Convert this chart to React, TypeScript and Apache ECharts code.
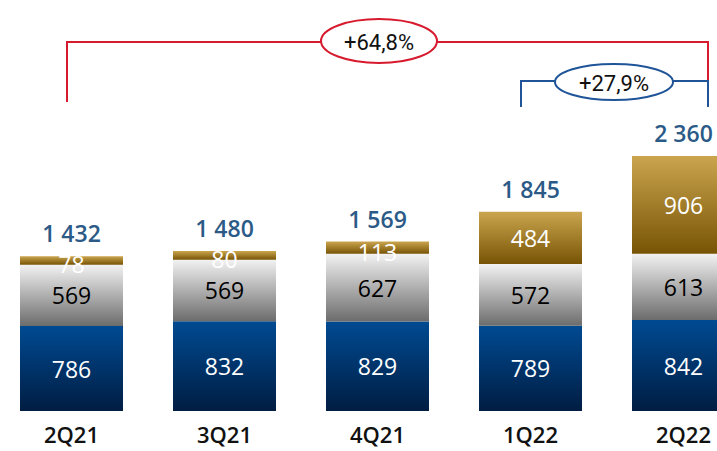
import React, { useEffect, useRef } from "react";
import * as echarts from "echarts";

const categories = ["2Q21", "3Q21", "4Q21", "1Q22", "2Q22"];
const blueValues = [786, 832, 829, 789, 842];
const greyValues = [569, 569, 627, 572, 613];
const goldValues = [78, 80, 113, 484, 906];
const totals = [1432, 1480, 1569, 1845, 2360];
const growthYoY = "+64,8%";
const growthQoQ = "+27,9%";

const FONT = "'Open Sans', 'Noto Sans', sans-serif";

function fmt(n: number): string {
  return String(n).replace(/\B(?=(\d{3})+(?!\d))/g, " ");
}

function vgrad(top: string, bottom: string) {
  return new echarts.graphic.LinearGradient(0, 0, 0, 1, [
    { offset: 0, color: top },
    { offset: 1, color: bottom },
  ]);
}

export default function App() {
  const ref = useRef<HTMLDivElement>(null);

  useEffect(() => {
    if (!ref.current) return;
    const chart = echarts.init(ref.current, undefined, { renderer: "svg" });

    const insideLabel = (color: string) => ({
      show: true,
      position: "inside" as const,
      color,
      fontFamily: FONT,
      fontSize: 23,
      fontWeight: 500 as any,
      lineHeight: 20,
    });

    // thin gold slices: label sits a little lower, as in the source slide
    const goldData = goldValues.map((v) =>
      v < 150 ? { value: v, label: { offset: [0, 4] } } : v
    );

    chart.setOption({
      animation: false,
      backgroundColor: "#ffffff",
      grid: {
        left: -5,
        right: -43,
        top: 141,
        bottom: 40,
        containLabel: false,
        outerBoundsMode: "none",
      },
      xAxis: {
        type: "category",
        data: categories,
        axisLine: { show: false },
        axisTick: { show: false },
        axisLabel: {
          color: "#111111",
          fontFamily: FONT,
          fontSize: 22,
          fontWeight: 550,
          margin: 12,
        },
      },
      yAxis: {
        type: "value",
        min: 0,
        max: 2500,
        show: false,
        splitLine: { show: false },
      },
      series: [
        {
          name: "blue",
          type: "bar",
          stack: "total",
          barWidth: 103,
          data: blueValues,
          itemStyle: { color: vgrad("#004a92", "#001d42") },
          label: insideLabel("#ffffff"),
        },
        {
          name: "grey",
          type: "bar",
          stack: "total",
          barWidth: 103,
          data: greyValues,
          itemStyle: { color: vgrad("#f2f2f2", "#6c6c6c") },
          label: insideLabel("#000000"),
        },
        {
          name: "gold",
          type: "bar",
          stack: "total",
          barWidth: 103,
          data: goldData,
          itemStyle: { color: vgrad("#cba54e", "#775405") },
          label: insideLabel("#ffffff"),
        },
        {
          name: "total",
          type: "bar",
          stack: "total",
          barWidth: 103,
          data: totals.map(() => 0),
          itemStyle: { color: "transparent" },
          label: {
            show: true,
            position: "top",
            distance: 13,
            color: "#2b5a87",
            fontFamily: FONT,
            fontSize: 23,
            fontWeight: 550,
            lineHeight: 20,
            formatter: (p: any) => fmt(totals[p.dataIndex]),
          },
        },
      ],
      graphic: [
        {
          type: "polyline",
          shape: { points: [[67, 102], [67, 42], [708, 42], [708, 81]] },
          style: { stroke: "#d71a2e", lineWidth: 2, fill: "none" },
        },
        {
          type: "polyline",
          shape: { points: [[521, 107], [521, 81], [708, 81], [708, 107]] },
          style: { stroke: "#1f5598", lineWidth: 2, fill: "none" },
        },
        {
          type: "ellipse",
          shape: { cx: 379, cy: 41, rx: 58, ry: 22 },
          style: { fill: "#ffffff", stroke: "#d71a2e", lineWidth: 2 },
        },
        {
          type: "ellipse",
          shape: { cx: 614, cy: 82, rx: 59, ry: 18 },
          style: { fill: "#ffffff", stroke: "#1f5598", lineWidth: 2 },
        },
        {
          type: "text",
          x: 379,
          y: 42,
          style: {
            text: growthYoY,
            fill: "#111111",
            font: "22px Roboto, sans-serif",
            textAlign: "center",
            textVerticalAlign: "middle",
          },
        },
        {
          type: "text",
          x: 614,
          y: 83,
          style: {
            text: growthQoQ,
            fill: "#111111",
            font: "22px Roboto, sans-serif",
            textAlign: "center",
            textVerticalAlign: "middle",
          },
        },
      ],
    });

    return () => chart.dispose();
  }, []);

  return (
    <div
      ref={ref}
      style={{ position: "fixed", left: 0, top: 0, width: 717, height: 451 }}
    />
  );
}
